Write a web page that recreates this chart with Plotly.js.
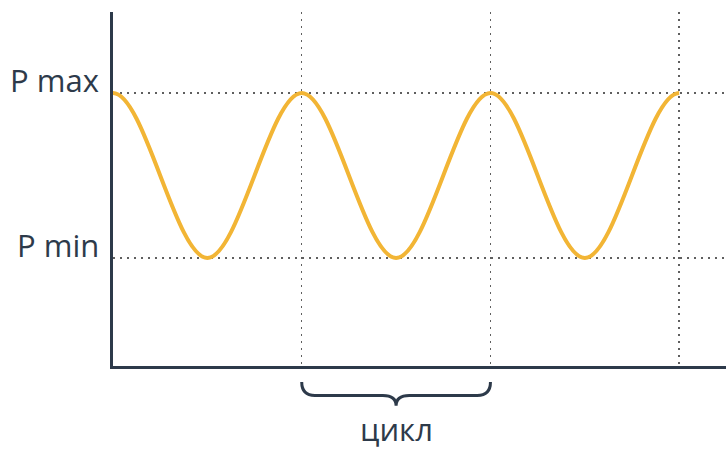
<!DOCTYPE html>
<html>
<head>
<meta charset="utf-8">
<script src="https://cdn.plot.ly/plotly-3.0.1.min.js"></script>
<style>html,body{margin:0;padding:0;background:#fff;}#chart{width:726px;height:449px;}</style>
</head>
<body>
<div id="chart"></div>
<script>
// Pressure curve (x in cycles, y: 1 = P min, 2 = P max);
// the outer points continue the wave past both ends and are clipped away.
var cycleX = [-0.5, 0, 0.5, 1, 1.5, 2, 2.5, 3, 3.5];
var pressure = [1, 2, 1, 2, 1, 2, 1, 2, 1];
var levelValues = [2, 1];
var levelLabels = ['P max', 'P min'];
var cycleMarks = [1, 2, 3];
var cycleLabel = 'цикл';
var cycleStart = 1, cycleEnd = 2;

var ink = '#2d3a4a';
var font = 'Open Sans, sans-serif';
var xMax = 3.248;
var curveEnd = 3;

var trace = {
  x: cycleX, y: pressure, type: 'scatter', mode: 'lines', xaxis: 'x2', yaxis: 'y',
  line: {color: '#F2B535', width: 4, shape: 'spline', smoothing: 1},
  hoverinfo: 'skip'
};

var annotations = levelValues.map(function (v, i) {
  return {x: 0, xref: 'paper', y: v, yref: 'y', text: levelLabels[i],
    showarrow: false, xanchor: 'right', yanchor: 'middle', xshift: -12, yshift: 13,
    font: {family: font, size: 31, color: ink}};
});
var mid = (cycleStart + cycleEnd) / 2;
annotations.push({x: mid, xref: 'x', y: -0.114, yref: 'paper', text: cycleLabel,
  showarrow: false, xanchor: 'center', yanchor: 'top',
  font: {family: font, size: 31, color: ink}});

var y1 = -0.045, y2 = -0.083, y3 = -0.112, d = 0.07;
var bracePath = 'M ' + cycleStart + ',' + y1 +
  ' Q ' + cycleStart + ',' + y2 + ' ' + (cycleStart + d) + ',' + y2 +
  ' L ' + (mid - d) + ',' + y2 +
  ' Q ' + mid + ',' + y2 + ' ' + mid + ',' + y3 +
  ' Q ' + mid + ',' + y2 + ' ' + (mid + d) + ',' + y2 +
  ' L ' + (cycleEnd - d) + ',' + y2 +
  ' Q ' + cycleEnd + ',' + y2 + ' ' + cycleEnd + ',' + y1;

var layout = {
  width: 726, height: 449,
  margin: {l: 113, r: 0, t: 12, b: 83},
  paper_bgcolor: '#ffffff', plot_bgcolor: 'rgba(0,0,0,0)',
  showlegend: false,
  xaxis: {range: [0, xMax], tickvals: cycleMarks, showticklabels: false, ticks: '',
    showgrid: true, gridcolor: '#5f5f5f', gridwidth: 1.5, griddash: '2px,5px',
    zeroline: false, showline: true, linecolor: ink, linewidth: 3, fixedrange: true},
  xaxis2: {domain: [0, curveEnd / xMax], range: [0, curveEnd], anchor: 'y',
    visible: false, showgrid: false, zeroline: false, fixedrange: true},
  yaxis: {range: [0.345, 2.491], tickvals: levelValues, showticklabels: false, ticks: '',
    showgrid: true, gridcolor: '#5f5f5f', gridwidth: 1.5, griddash: '2px,5px',
    zeroline: false, showline: true, linecolor: ink, linewidth: 3, fixedrange: true},
  shapes: [{type: 'path', xref: 'x', yref: 'paper', path: bracePath,
    line: {color: ink, width: 3}}],
  annotations: annotations
};

Plotly.newPlot('chart', [trace], layout, {displayModeBar: false, staticPlot: true});
</script>
</body>
</html>
